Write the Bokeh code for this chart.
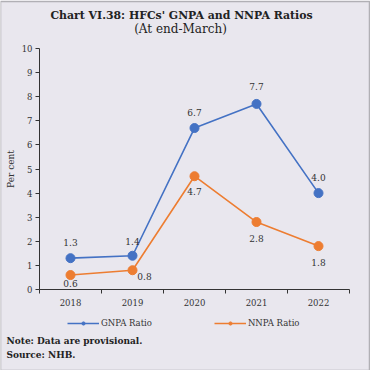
from bokeh.plotting import figure
from bokeh.models import (Range1d, FixedTicker, Label, Legend, LegendItem, ColumnDataSource,
                          BoxAnnotation)
from bokeh.embed import file_html
from bokeh.resources import INLINE
from bokeh.core.properties import value

years = ["2018", "2019", "2020", "2021", "2022"]
gnpa = [1.3, 1.4, 6.7, 7.7, 4.0]
nnpa = [0.6, 0.8, 4.7, 2.8, 1.8]
y_ticks = [0, 1, 2, 3, 4, 5, 6, 7, 8, 9, 10]

# label placement offsets (pixels)
g_dy = [-16, -14, -16, -17, -16]
n_dx = [0, 12, 0, 0, 0]
n_dy = [8, 6, 15, 16, 16]

BG = "#E9E7EE"
BLUE = "#4472C4"
ORANGE = "#ED7D31"
FONT = "DejaVu Serif"
TXT = "#333333"

# canvas placement (page pixels): canvas starts at page (8, 8)
W, H = 370, 370
OX, OY = 8, 8
# plot area in page pixels
PL, PR, PT, PB = 47, 357, 56, 297
n = len(years)
ymax = y_ticks[-1]
xs = (PR - PL) / n          # px per x unit
ys = (PB - PT) / ymax       # px per y unit
x0 = (OX - PL) / xs
x1 = n + (OX + W - PR) / xs
y1 = (PB - OY) / ys
y0 = -(OY + H - PB) / ys

xpos = [i + 0.5 for i in range(n)]

p = figure(width=W, height=H, output_backend="svg", toolbar_location=None,
           x_range=Range1d(x0, x1), y_range=Range1d(y0, y1),
           min_border=0,
           background_fill_color=BG, border_fill_color=BG, outline_line_color=None)
p.grid.visible = False

# axes at fixed locations inside the full-canvas frame
p.xaxis.fixed_location = 0
p.yaxis.fixed_location = 0
p.xaxis.bounds = (0, n)
p.yaxis.bounds = (0, ymax)
p.xaxis.ticker = FixedTicker(ticks=xpos, minor_ticks=list(range(n + 1)))
p.xaxis.major_label_overrides = {x: y for x, y in zip(xpos, years)}
p.xaxis.minor_tick_line_color = TXT
p.xaxis.minor_tick_out = 4
p.xaxis.minor_tick_in = 0
p.xaxis.major_tick_line_color = None
p.xaxis.major_tick_out = 0
p.xaxis.major_tick_in = 0
p.yaxis.ticker = FixedTicker(ticks=y_ticks)
p.yaxis.minor_tick_line_color = None
p.yaxis.major_tick_out = 4
p.yaxis.major_tick_in = 0
p.yaxis.major_tick_line_color = TXT
for ax in (p.xaxis, p.yaxis):
    ax.axis_line_color = TXT
    ax.major_label_text_font = FONT
    ax.major_label_text_font_size = "8.5px"
    ax.major_label_text_color = TXT
p.xaxis.major_label_standoff = 5
p.yaxis.major_label_standoff = 3
p.yaxis.axis_label = "Per cent"
p.yaxis.axis_label_text_font = FONT
p.yaxis.axis_label_text_font_style = "normal"
p.yaxis.axis_label_text_font_size = "9px"
p.yaxis.axis_label_text_color = TXT
p.yaxis.axis_label_standoff = 3

src = ColumnDataSource(dict(x=xpos, g=gnpa, n=nnpa,
                            gl=[f"{v:.1f}" for v in gnpa], nl=[f"{v:.1f}" for v in nnpa],
                            gdy=g_dy, ndx=n_dx, ndy=n_dy))

gl = p.line("x", "g", source=src, line_color=BLUE, line_width=1.6)
gc = p.scatter("x", "g", source=src, size=9, fill_color=BLUE, line_color=BLUE)
nl = p.line("x", "n", source=src, line_color=ORANGE, line_width=1.6)
nc = p.scatter("x", "n", source=src, size=9, fill_color=ORANGE, line_color=ORANGE)

p.text("x", "g", text="gl", source=src, y_offset="gdy", text_align="center",
       text_baseline="middle", text_font=value(FONT), text_font_size="9px", text_color=TXT)
p.text("x", "n", text="nl", source=src, x_offset="ndx", y_offset="ndy", text_align="center",
       text_baseline="middle", text_font=value(FONT), text_font_size="9px", text_color=TXT)

legend = Legend(items=[LegendItem(label="GNPA Ratio", renderers=[gl, gc]),
                       LegendItem(label="NNPA Ratio", renderers=[nl, nc])],
                orientation="horizontal", location=(75 - OX, OY + H - 336),
                background_fill_alpha=0, border_line_color=None,
                glyph_width=32, glyph_height=8, label_standoff=2, spacing=62,
                padding=0, margin=0,
                label_text_font=FONT, label_text_font_size="8.5px", label_text_color=TXT)
p.add_layout(legend, "center")

def lab(px, py, t, size="9px", style="normal", align="left"):
    p.add_layout(Label(x=px - OX, y=OY + H - py, x_units="screen", y_units="screen", text=t,
                       text_font=FONT, text_font_size=size, text_font_style=style,
                       text_align=align, text_baseline="middle", text_color="#222222"))

lab(189, 23, "Chart VI.38: HFCs' GNPA and NNPA Ratios", size="10.9px", style="bold", align="center")
lab(188, 36, "(At end-March)", size="12px", align="center")
lab(14, 348, "Note: Data are provisional.", size="9px", style="bold")
lab(14, 362, "Source: NHB.", size="9px", style="bold")

p.add_layout(BoxAnnotation(left=0, right=W - 1, top=H - 1, bottom=0,
                           left_units="screen", right_units="screen",
                           top_units="screen", bottom_units="screen",
                           fill_alpha=0, line_color="#333333", line_width=1.5))

open("out.html", "w").write(file_html(p, INLINE))
